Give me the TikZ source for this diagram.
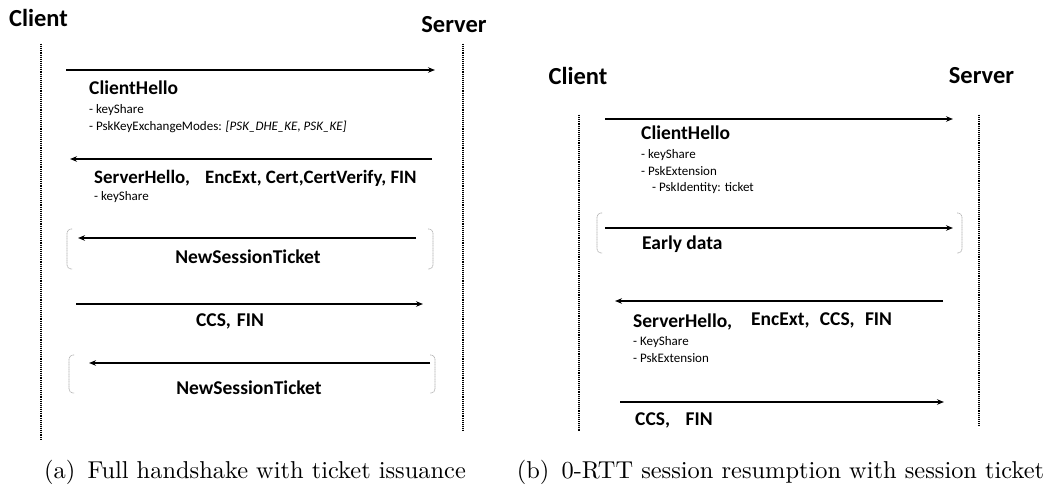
\documentclass[tikz,border=0pt]{standalone}
\usepackage{fontspec}
\newfontfamily\calib{Carlito}
\newfontfamily\capfont{lmroman10-regular}[Extension=.otf]
\usetikzlibrary{arrows.meta}

\tikzset{
  lifeline/.style={line width=1.2pt, dash pattern=on 1pt off 0.9pt},
  msgarrow/.style={line width=1.4pt, -{Stealth[length=7pt,width=5.5pt]}},
  bracket/.style={draw=gray!65, line width=0.6pt, dash pattern=on 1.2pt off 0.5pt, rounded corners=4pt},
  party/.style={inner sep=0pt, font=\calib\bfseries\fontsize{24.5}{28}\selectfont},
  msglabel/.style={inner sep=0pt, font=\calib\bfseries\fontsize{19.5}{23}\selectfont},
  note/.style={inner sep=0pt, font=\calib\fontsize{13}{15}\selectfont},
  caption/.style={inner sep=0pt, font=\capfont\fontsize{24.4}{29}\selectfont},
}

\begin{document}
\begin{tikzpicture}[x=1pt, y=-1pt]
\useasboundingbox (0,0) rectangle (1054,486);

% ---------------- (a) full handshake ----------------
\node[party, anchor=base] (clientA) at (38.5,27) {Client};
\node[party, anchor=base] (serverA) at (454,33) {Server};

\coordinate (cTopA) at (41,44);  \coordinate (cBotA) at (41,440);
\coordinate (sTopA) at (463,44); \coordinate (sBotA) at (463,430);
\draw[lifeline] (cTopA) -- (cBotA);
\draw[lifeline] (sTopA) -- (sBotA);

% ClientHello
\coordinate (a1s) at (66,70);  \coordinate (a1e) at (435,70);
\draw[msgarrow] (a1s) -- (a1e);
\node[msglabel, anchor=base west] (chA) at (89,95) {ClientHello};
\node[note, anchor=base west] (chA1) at (89,114) {- keyShare};
\node[note, anchor=base west] (chA2) at (89,131) {- PskKeyExchangeModes: \textit{[PSK\_DHE\_KE, PSK\_KE]}};

% ServerHello ... FIN
\coordinate (a2s) at (432,159); \coordinate (a2e) at (70,159);
\draw[msgarrow] (a2s) -- (a2e);
\node[msglabel, anchor=base west, font=\calib\bfseries\fontsize{18.9}{22}\selectfont] (shA) at (94,184) {ServerHello,\hspace{0.8em}EncExt, Cert,CertVerify, FIN};
\node[note, anchor=base west] (shA1) at (94,201) {- keyShare};

% NewSessionTicket (optional, bracketed)
\draw[bracket] (72,229) -- (67,229) -- (67,269) -- (72,269);
\draw[bracket] (428,229) -- (433,229) -- (433,269) -- (428,269);
\coordinate (a3s) at (416,238); \coordinate (a3e) at (78,238);
\draw[msgarrow] (a3s) -- (a3e);
\node[msglabel, anchor=base] (nstA1) at (248,264) {NewSessionTicket};

% CCS, FIN
\coordinate (a4s) at (76,304); \coordinate (a4e) at (423,304);
\draw[msgarrow] (a4s) -- (a4e);
\node[msglabel, anchor=base] (ccsA) at (230,326) {CCS,\hspace{0.3em}FIN};

% NewSessionTicket (bracketed)
\draw[bracket] (74,355) -- (69,355) -- (69,393) -- (74,393);
\draw[bracket] (430,355) -- (435,355) -- (435,393) -- (430,393);
\coordinate (a5s) at (430,363); \coordinate (a5e) at (89,363);
\draw[msgarrow] (a5s) -- (a5e);
\node[msglabel, anchor=base] (nstA2) at (249,394) {NewSessionTicket};

\node[caption, anchor=base west] (capA) at (44,478) {(a)\hspace{0.5em}Full handshake with ticket issuance};

% ---------------- (b) 0-RTT resumption ----------------
\node[party, anchor=base] (clientB) at (578,85) {Client};
\node[party, anchor=base] (serverB) at (981.5,84) {Server};

\coordinate (cTopB) at (579,115); \coordinate (cBotB) at (579,432);
\coordinate (sTopB) at (979,115); \coordinate (sBotB) at (979,425);
\draw[lifeline] (cTopB) -- (cBotB);
\draw[lifeline] (sTopB) -- (sBotB);

% ClientHello with PSK
\coordinate (b1s) at (605,119); \coordinate (b1e) at (953,119);
\draw[msgarrow] (b1s) -- (b1e);
\node[msglabel, anchor=base west] (chB) at (641,140) {ClientHello};
\node[note, anchor=base west] (chB1) at (641,159) {- keyShare};
\node[note, anchor=base west] (chB2) at (641,176) {- PskExtension};
\node[note, anchor=base west] (chB3) at (652,192) {- PskIdentity: ticket};

% Early data (bracketed)
\draw[bracket] (602,213) -- (597,213) -- (597,253) -- (602,253);
\draw[bracket] (957,213) -- (962,213) -- (962,253) -- (957,253);
\coordinate (b2s) at (605,228); \coordinate (b2e) at (953,228);
\draw[msgarrow] (b2s) -- (b2e);
\node[msglabel, anchor=base west] (edB) at (642,250) {Early data};

% ServerHello ... FIN
\coordinate (b3s) at (943,301); \coordinate (b3e) at (615,301);
\draw[msgarrow] (b3s) -- (b3e);
\node[msglabel, anchor=base west] (shB) at (633,327) {ServerHello,};
\node[msglabel, anchor=base west] (shB2) at (751,325) {EncExt,\hspace{0.3em} CCS,\hspace{0.3em} FIN};
\node[note, anchor=base west] (shB3) at (633,345) {- KeyShare};
\node[note, anchor=base west] (shB4) at (633,362) {- PskExtension};

% CCS, FIN
\coordinate (b4s) at (620,402); \coordinate (b4e) at (944,402);
\draw[msgarrow] (b4s) -- (b4e);
\node[msglabel, anchor=base west] (ccsB) at (635,425) {CCS,\hspace{0.8em}FIN};

\node[caption, anchor=base] (capB) at (780.5,478) {(b)\hspace{0.5em}0-RTT session resumption with session ticket};
\end{tikzpicture}
\end{document}
